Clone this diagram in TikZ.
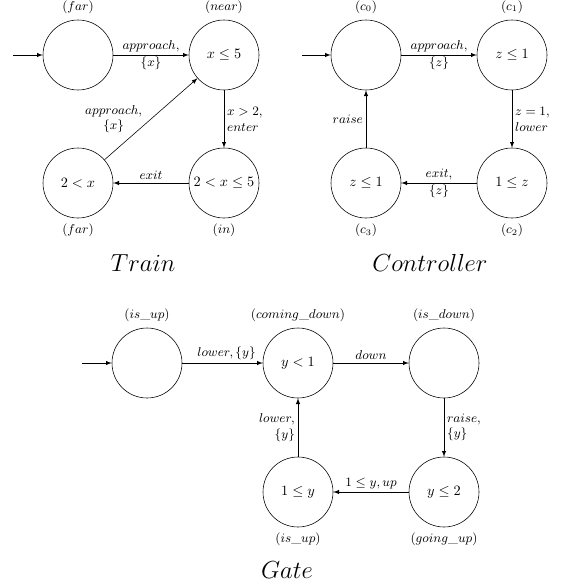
\documentclass[tikz,border=0pt]{standalone}
\usetikzlibrary{arrows}
\tikzset{
  loc/.style={draw, circle, minimum size=49pt, inner sep=0pt},
  lbl/.style={font=\small, inner sep=1pt},
  elbl/.style={font=\small, align=center, inner sep=2pt},
  ttl/.style={font=\fontsize{18.5}{22}\selectfont}
}
\begin{document}
\begin{tikzpicture}[>=latex, x=0.7pt, y=-0.7pt]
\useasboundingbox (0,0) rectangle (562,588);
% Train
\node[loc, label={[lbl, label distance=3pt]above:$(far)$}] (far) at (78,55) {};
\node[loc, label={[lbl, label distance=3pt]above:$(near)$}] (near) at (224,55) {$x\le 5$};
\node[loc, label={[lbl, label distance=3pt]below:$(in)$}] (in) at (224,183) {$2<x\le 5$};
\node[loc, label={[lbl, label distance=3pt]below:$(far)$}] (farb) at (78,183) {$2<x$};
\coordinate (tin) at (13,55);
\draw[->](tin)--(far);
\draw[->](far)--node[elbl]{$approach,$\\[1pt]$\{x\}$}(near);
\draw[->](near)--node[elbl, right, align=left]{$x>2,$\\$enter$}(in);
\draw[->](in)--node[elbl, above]{$exit$}(farb);
\draw[->](farb)--node[elbl, left=4pt]{$approach,$\\$\{x\}$}(near);
\node[ttl] (train) at (143,263) {$Train$};

% Controller
\node[loc, label={[lbl, label distance=3pt]above:$(c_0)$}] (c0) at (366,55) {};
\node[loc, label={[lbl, label distance=3pt]above:$(c_1)$}] (c1) at (512,55) {$z\le 1$};
\node[loc, label={[lbl, label distance=3pt]below:$(c_2)$}] (c2) at (512,183) {$1\le z$};
\node[loc, label={[lbl, label distance=3pt]below:$(c_3)$}] (c3) at (366,183) {$z\le 1$};
\coordinate (cin) at (302,55);
\draw[->](cin)--(c0);
\draw[->](c0)--node[elbl]{$approach,$\\[1pt]$\{z\}$}(c1);
\draw[->](c1)--node[elbl, right, align=left]{$z=1,$\\$lower$}(c2);
\draw[->](c2)--node[elbl]{$exit,$\\[1pt]$\{z\}$}(c3);
\draw[->](c3)--node[elbl, left]{$raise$}(c0);
\node[ttl] (ctrl) at (430,263) {$Controller$};

% Gate
\node[loc, label={[lbl, label distance=3pt]above:$(is\_up)$}] (up) at (147,363) {};
\node[loc, label={[lbl, label distance=3pt]above:$(coming\_down)$}] (cd) at (298,363) {$y<1$};
\node[loc, label={[lbl, label distance=3pt]above:$(is\_down)$}] (dn) at (444,363) {};
\node[loc, label={[lbl, label distance=3pt]below:$(going\_up)$}] (gu) at (444,492) {$y\le 2$};
\node[loc, label={[lbl, label distance=3pt]below:$(is\_up)$}] (upb) at (298,492) {$1\le y$};
\coordinate (gin) at (82,363);
\draw[->](gin)--(up);
\draw[->](up)--node[elbl, above, pos=.55]{$lower,\{y\}$}(cd);
\draw[->](cd)--node[elbl, above]{$down$}(dn);
\draw[->](dn)--node[elbl, right, align=left]{$raise,$\\$\{y\}$}(gu);
\draw[->](gu)--node[elbl, above]{$1\le y, up$}(upb);
\draw[->](upb)--node[elbl, left, align=right]{$lower,$\\$\{y\}$}(cd);
\node[ttl] (gate) at (287,570) {$Gate$};
\end{tikzpicture}
\end{document}
